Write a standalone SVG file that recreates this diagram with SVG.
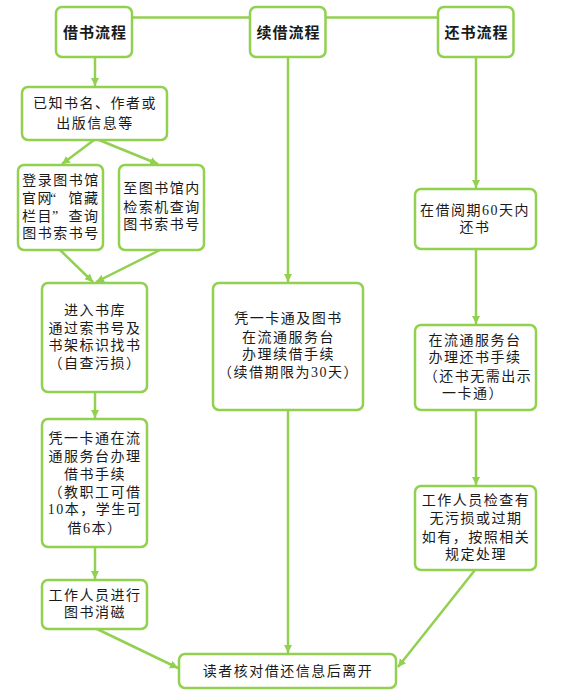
<svg xmlns="http://www.w3.org/2000/svg" width="576" height="697" viewBox="0 0 576 697">
<style>
.box{fill:#fff;stroke:#92D050;stroke-width:2.5}
.ln{fill:none;stroke:#92D050;stroke-width:2.5}
.t{font-family:"Liberation Serif","Noto Sans CJK SC",serif;font-size:14px;letter-spacing:1.5px;fill:#1a1a1a;text-anchor:middle}
.ts{font-family:"Liberation Serif","Noto Sans CJK SC",serif;font-size:14px;fill:#1a1a1a}
.h{font-family:"Noto Sans CJK SC",sans-serif;font-size:15px;font-weight:bold;letter-spacing:1px;fill:#1a1a1a;text-anchor:middle}
</style>
<defs>
<marker id="arr" markerUnits="userSpaceOnUse" markerWidth="9" markerHeight="9" refX="8" refY="4.5" orient="auto">
<path d="M0,0.5 L8,4.5 L0,8.5 z" fill="#92D050"/>
</marker>
</defs>
<g id="connectors">
<path class="ln" d="M132,17.5 H250 M325.5,17.5 H438"/>
<path class="ln" marker-end="url(#arr)" d="M95,57 V86"/>
<path class="ln" marker-end="url(#arr)" d="M94,140 L62,164"/>
<path class="ln" marker-end="url(#arr)" d="M99,140 L158,164"/>
<path class="ln" marker-end="url(#arr)" d="M60,250 L93,282"/>
<path class="ln" marker-end="url(#arr)" d="M160,250 L96,282"/>
<path class="ln" marker-end="url(#arr)" d="M95,392 V418"/>
<path class="ln" marker-end="url(#arr)" d="M95,547 V579"/>
<path class="ln" marker-end="url(#arr)" d="M97,629 L178,668"/>
<path class="ln" marker-end="url(#arr)" d="M288,57 V282"/>
<path class="ln" marker-end="url(#arr)" d="M288,410 V653"/>
<path class="ln" marker-end="url(#arr)" d="M476,57 V188"/>
<path class="ln" marker-end="url(#arr)" d="M476,249 V324"/>
<path class="ln" marker-end="url(#arr)" d="M476,410 V485"/>
<path class="ln" marker-end="url(#arr)" d="M475,570 L398,667"/>
</g>
<g id="h1"><rect class="box" x="56" y="7" width="76" height="50" rx="6"/><text class="h" x="95" y="38">借书流程</text></g>
<g id="h2"><rect class="box" x="250" y="7" width="75.5" height="50" rx="6"/><text class="h" x="288.5" y="38">续借流程</text></g>
<g id="h3"><rect class="box" x="438" y="7" width="75.5" height="50" rx="6"/><text class="h" x="476.5" y="38">还书流程</text></g>
<g id="n1"><rect class="box" x="22" y="87" width="145" height="53" rx="6"/>
<text class="t" x="95" y="108">已知书名、作者或</text><text class="t" x="95" y="128">出版信息等</text></g>
<g id="n2"><rect class="box" x="18" y="165" width="85" height="85" rx="6"/>
<text class="t" x="61" y="185">登录图书馆</text>
<text class="ts" x="22 37.5 50 68.5 84" y="203">官网“馆藏</text>
<text class="ts" x="22 37.5 52 68.5 84" y="221">栏目”查询</text>
<text class="t" x="61" y="238">图书索书号</text></g>
<g id="n3"><rect class="box" x="119" y="165" width="85" height="85" rx="6"/>
<text class="t" x="162" y="193">至图书馆内</text><text class="t" x="162" y="211.5">检索机查询</text><text class="t" x="162" y="229">图书索书号</text></g>
<g id="n4"><rect class="box" x="42" y="283" width="105" height="109" rx="6"/>
<text class="t" x="95" y="315">进入书库</text><text class="t" x="95" y="333">通过索书号及</text><text class="t" x="95" y="350">书架标识找书</text><text class="t" x="95" y="368">（自查污损）</text></g>
<g id="n5"><rect class="box" x="42" y="419" width="105" height="128" rx="6"/>
<text class="t" x="95" y="443">凭一卡通在流</text><text class="t" x="95" y="461">通服务台办理</text><text class="t" x="95" y="479">借书手续</text><text class="t" x="95" y="497">（教职工可借</text><text class="t" x="95" y="514">10本，学生可</text><text class="t" x="95" y="533">借6本）</text></g>
<g id="n6"><rect class="box" x="42" y="580" width="105" height="49" rx="6"/>
<text class="t" x="95" y="600">工作人员进行</text><text class="t" x="95" y="617">图书消磁</text></g>
<g id="n7"><rect class="box" x="213" y="283" width="150" height="127" rx="6"/>
<text class="t" x="288.5" y="323">凭一卡通及图书</text><text class="t" x="288.5" y="341.5">在流通服务台</text><text class="t" x="288.5" y="359">办理续借手续</text><text class="t" x="288.5" y="377">（续借期限为30天）</text></g>
<g id="n8"><rect class="box" x="415" y="189" width="121" height="60" rx="6"/>
<text class="t" x="475" y="215">在借阅期60天内</text><text class="t" x="475" y="232">还书</text></g>
<g id="n9"><rect class="box" x="415" y="325" width="121" height="85" rx="6"/>
<text class="t" x="475" y="345">在流通服务台</text><text class="t" x="475" y="362">办理还书手续</text><text class="t" x="478" y="380.5">（还书无需出示</text><text class="t" x="473" y="398">一卡通）</text></g>
<g id="n10"><rect class="box" x="415" y="486" width="121" height="84" rx="6"/>
<text class="t" x="476" y="505">工作人员检查有</text><text class="t" x="476" y="523">无污损或过期</text><text class="t" x="476" y="541.5">如有，按照相关</text><text class="t" x="476" y="559">规定处理</text></g>
<g id="n11"><rect class="box" x="179" y="654" width="217" height="34" rx="6"/>
<text class="t" x="288" y="676">读者核对借还信息后离开</text></g>
</svg>
